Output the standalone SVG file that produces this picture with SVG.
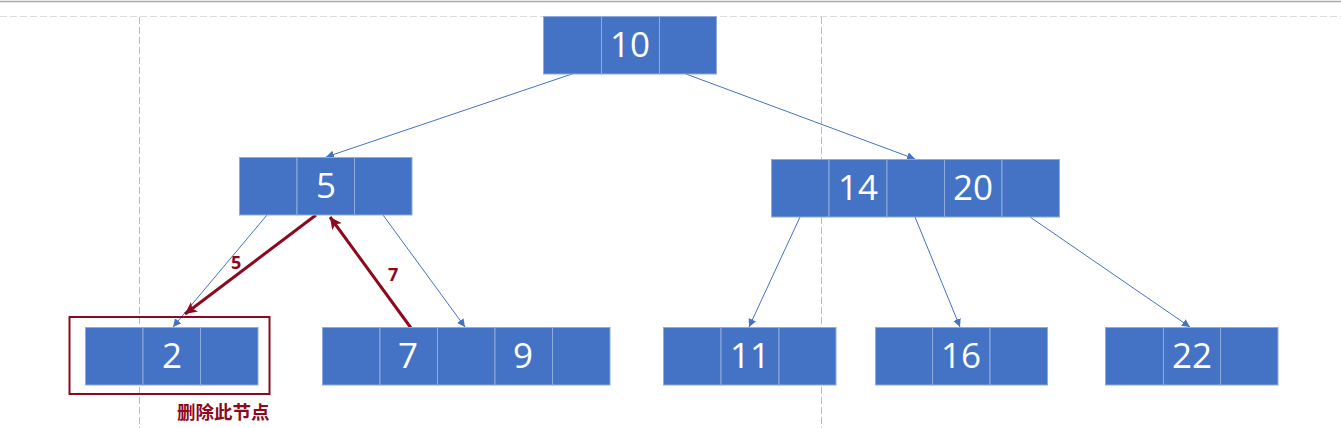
<svg xmlns="http://www.w3.org/2000/svg" width="1341" height="428" viewBox="0 0 1341 428">
<style>
.cell{fill:#4472C4;stroke:#8FAADC;stroke-width:1}
.num{font-family:"Open Sans","Noto Sans",sans-serif;font-size:35px;fill:#ffffff;text-anchor:middle}
.edge{stroke:#4472C4;stroke-width:1;fill:none;marker-end:url(#ab)}
.red{stroke:#8B0A1E;stroke-width:3;fill:none;marker-end:url(#ar)}
.rlabel{font-family:"Open Sans","Noto Sans",sans-serif;font-size:18px;font-weight:bold;fill:#8B0A1E}
.guide{stroke:#BBBBBB;stroke-width:1;stroke-dasharray:7 3;fill:none}
</style>
<defs>
<marker id="ab" markerUnits="userSpaceOnUse" markerWidth="10" markerHeight="10" refX="8" refY="4" orient="auto">
<path d="M0,0 L8,4 L0,8 Z" fill="#4472C4"/>
</marker>
<marker id="ar" markerUnits="userSpaceOnUse" markerWidth="14" markerHeight="14" refX="12" refY="6" orient="auto">
<path d="M0,0 L12,6 L0,12 L3,6 Z" fill="#8B0A1E"/>
</marker>
</defs>
<rect x="0" y="0" width="1341" height="428" fill="#ffffff"/>
<line x1="0" y1="1.5" x2="1341" y2="1.5" stroke="#AAAAAA" stroke-width="1.5"/>
<g id="guides">
<line x1="0" y1="16.5" x2="1341" y2="16.5" stroke="#DDDDDD" stroke-width="1" stroke-dasharray="7 3"/>
<line class="guide" x1="139.5" y1="17" x2="139.5" y2="428"/>
<line class="guide" x1="821.5" y1="17" x2="821.5" y2="428"/>
</g>
<g id="connectors">
<line class="edge" x1="572" y1="74" x2="326" y2="157"/>
<line class="edge" x1="686" y1="74" x2="915" y2="159"/>
<line class="edge" x1="267" y1="215" x2="173" y2="327"/>
<line class="edge" x1="383" y1="215" x2="465" y2="327"/>
<line class="edge" x1="800" y1="217" x2="749" y2="327"/>
<line class="edge" x1="915" y1="217" x2="960" y2="327"/>
<line class="edge" x1="1030" y1="217" x2="1190" y2="327"/>
<line class="red" x1="316" y1="215" x2="185" y2="314"/>
<line class="red" x1="411" y1="328" x2="330" y2="217"/>
<text class="rlabel" x="231" y="269">5</text>
<text class="rlabel" x="388" y="281">7</text>
</g>
<g id="node10">
<rect class="cell" x="543.5" y="16.5" width="58" height="57.5"/>
<rect class="cell" x="601.5" y="16.5" width="58" height="57.5"/>
<rect class="cell" x="659.5" y="16.5" width="57" height="57.5"/>
<text class="num" x="630" y="57">10</text>
</g>
<g id="node5">
<rect class="cell" x="239.5" y="157.5" width="57.5" height="57.5"/>
<rect class="cell" x="297" y="157.5" width="57.5" height="57.5"/>
<rect class="cell" x="354.5" y="157.5" width="57.5" height="57.5"/>
<text class="num" x="326" y="198">5</text>
</g>
<g id="node14_20">
<rect class="cell" x="771.5" y="159.5" width="57.5" height="57.5"/>
<rect class="cell" x="829" y="159.5" width="58" height="57.5"/>
<rect class="cell" x="887" y="159.5" width="57.5" height="57.5"/>
<rect class="cell" x="944.5" y="159.5" width="57.5" height="57.5"/>
<rect class="cell" x="1002" y="159.5" width="57.5" height="57.5"/>
<text class="num" x="858" y="200">14</text>
<text class="num" x="973" y="200">20</text>
</g>
<g id="node2">
<rect class="cell" x="85.5" y="327.5" width="57.5" height="57.5"/>
<rect class="cell" x="143" y="327.5" width="57.5" height="57.5"/>
<rect class="cell" x="200.5" y="327.5" width="57.5" height="57.5"/>
<text class="num" x="172" y="368">2</text>
<rect x="69.5" y="317" width="200" height="77" fill="none" stroke="#8B0A1E" stroke-width="2"/>
<text x="177" y="419" font-family="'Noto Sans CJK SC',sans-serif" font-size="18.5" font-weight="bold" fill="#8B0A1E">删除此节点</text>
</g>
<g id="node7_9">
<rect class="cell" x="322.5" y="327.5" width="57.5" height="57.5"/>
<rect class="cell" x="380" y="327.5" width="57.5" height="57.5"/>
<rect class="cell" x="437.5" y="327.5" width="57.5" height="57.5"/>
<rect class="cell" x="495" y="327.5" width="57.5" height="57.5"/>
<rect class="cell" x="552.5" y="327.5" width="57.5" height="57.5"/>
<text class="num" x="408" y="368">7</text>
<text class="num" x="523" y="368">9</text>
</g>
<g id="node11">
<rect class="cell" x="663.5" y="327.5" width="57.5" height="57.5"/>
<rect class="cell" x="721" y="327.5" width="58" height="57.5"/>
<rect class="cell" x="779" y="327.5" width="57" height="57.5"/>
<text class="num" x="750" y="368">11</text>
</g>
<g id="node16">
<rect class="cell" x="875.5" y="327.5" width="57" height="57.5"/>
<rect class="cell" x="932.5" y="327.5" width="57.5" height="57.5"/>
<rect class="cell" x="990" y="327.5" width="57.5" height="57.5"/>
<text class="num" x="961" y="368">16</text>
</g>
<g id="node22">
<rect class="cell" x="1105.5" y="327.5" width="58" height="57.5"/>
<rect class="cell" x="1163.5" y="327.5" width="57" height="57.5"/>
<rect class="cell" x="1220.5" y="327.5" width="57.5" height="57.5"/>
<text class="num" x="1192" y="368">22</text>
</g>
</svg>
